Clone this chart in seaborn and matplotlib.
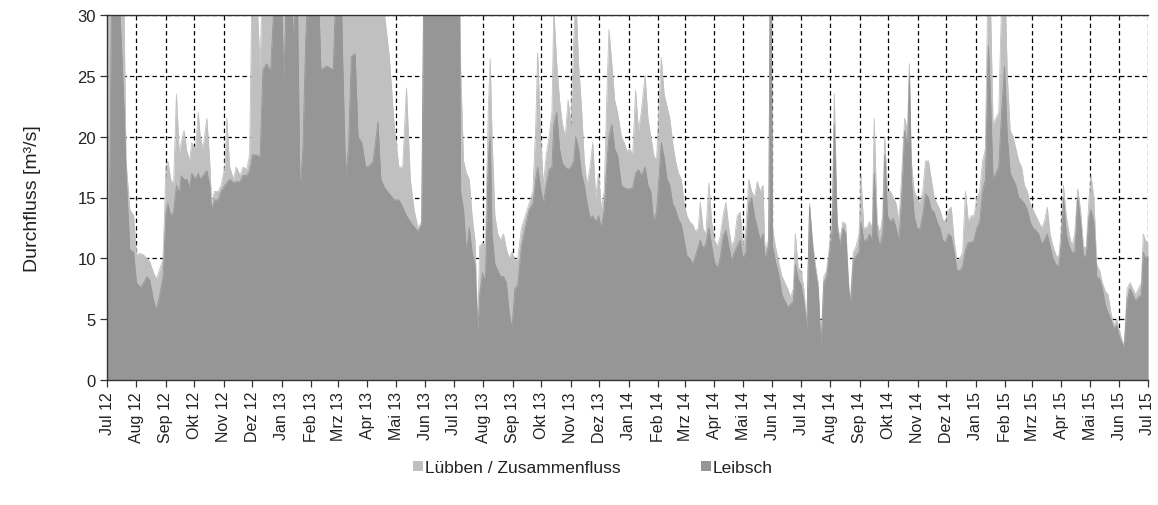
import numpy as np
import pandas as pd
import matplotlib
matplotlib.use("Agg")
import matplotlib.pyplot as plt
from matplotlib.lines import Line2D
import seaborn as sns

# Tage seit 1. Juli 2012
tage = [
    0, 2, 5, 12, 16, 18, 20, 24, 28, 31, 35, 38, 42, 45, 49, 52, 55, 59, 62, 64,
    67, 70, 73, 76, 78, 81, 84, 87, 89, 93, 96, 98, 101, 105, 108, 110, 113, 117, 120, 124,
    126, 129, 133, 136, 140, 143, 147, 150, 153, 157, 161, 164, 168,
    172, 177, 183, 186, 189, 194, 196, 200, 203, 206, 209, 212, 222, 225, 231, 238, 241, 246,
    248, 251, 254, 257, 261, 264, 268, 272, 276, 280, 285, 288, 292, 297, 302, 307, 311, 315,
    319, 323, 327, 331, 334,
    340, 350, 360, 370,
    372, 375, 378, 381, 384, 387, 390, 392, 395, 398, 401, 403, 405, 408, 411, 414, 417, 420,
    423, 426, 429, 432, 436, 440, 444, 448, 451, 453, 456, 459, 462, 465, 468, 470, 473, 476,
    479, 482, 485, 488, 491, 493, 496, 499, 502, 505, 508, 511, 514, 517, 520, 523, 526, 528,
    531, 534, 537,
    541, 544, 547, 550, 553, 556, 559, 562, 566, 569, 572, 575, 578, 581, 583, 586, 589, 592,
    595, 598, 601, 604, 607, 610, 613, 616, 619, 622, 624, 627, 630, 633, 636, 639, 642, 645,
    648, 651, 654, 657, 660, 663, 666, 669, 672, 675, 678, 681, 684, 687, 690,
    692, 696, 698, 700, 703, 707, 710, 713, 716,
    719, 722, 724, 727, 730, 733, 736, 739, 742, 745, 748, 751, 754, 757, 760, 763, 765, 768,
    771, 774, 777, 780, 782, 785, 788, 791, 793, 796, 799, 802, 805, 807, 810, 813, 816, 818,
    821, 824, 827, 830, 833, 836, 839, 842, 844, 846, 849, 852, 855, 858, 861, 864, 867, 870,
    873, 876, 879, 882, 885, 888, 891, 894,
    897, 900, 903, 906, 909, 912, 915, 918, 921, 924, 927, 929, 932, 935, 938, 941, 944, 947,
    950, 953, 956, 959, 962, 965, 968, 971, 974, 977, 980, 983, 986, 989, 992, 995, 998, 1001,
    1004, 1006, 1009, 1012, 1015, 1018, 1021, 1024, 1027, 1030, 1033, 1035, 1038, 1041, 1044,
    1047, 1050, 1053, 1056, 1059, 1062, 1065, 1068, 1070, 1073, 1076, 1079, 1082, 1085, 1088,
    1090, 1092, 1095,
]

# Durchfluss Lübben / Zusammenfluss [m³/s]
luebben = [
    11.5, 35, 38, 38, 35, 30, 18, 14, 13.5, 10.3, 10.4, 10.3, 10, 9.7, 8.8, 8.3, 9, 10, 17.5, 18,
    16.5, 16, 23.5, 18.5, 19.5, 20.5, 18.8, 18, 19.5, 19, 22, 20, 19, 21.5, 18, 14.5, 15.5, 15.5, 16, 17.5,
    21.5, 17.5, 16.5, 17.5, 16.8, 17.5, 17.3, 18.5, 35, 33, 25.5, 35, 35,
    35, 35, 35, 35, 35, 35, 35, 35, 35, 35, 35, 35, 35, 35, 35, 35, 35, 35,
    35, 35, 35, 35, 35, 35, 35, 35, 35, 35, 35, 35, 30, 26.5, 21, 17.5, 17.5, 24,
    16.5, 14, 12.5, 13, 40,
    40, 40, 40, 40,
    25.5, 18, 17, 16.5, 13.5, 11.5, 4.5, 11, 11.3, 11, 22, 26.4, 20, 13.5, 12, 11.5, 12, 10.8,
    10, 10.5, 9.8, 10, 12.5, 13.5, 14.5, 15.5, 21, 26.9, 20, 16, 18.5, 20, 22, 30.5, 26, 23,
    21, 20, 23, 21, 28, 32, 26, 22.5, 18, 16, 17.5, 19.5, 15, 17, 14, 15.5, 24, 28.8,
    26, 23, 22,
    20, 19.5, 18.8, 19, 18.5, 23.8, 20.5, 22, 25, 21.5, 20, 18.5, 18, 23, 26.5, 23.5, 22.5, 21.5,
    19.5, 18, 17, 16.5, 14.5, 13.5, 13, 12.8, 12.2, 12.5, 14.6, 12.4, 12, 16.2, 13, 11.5, 11, 11.8,
    13.5, 14.6, 12.5, 11, 11.5, 13.5, 13.8, 11, 12.5, 16.5, 15.5, 15, 16.3, 15.5, 16,
    10.8, 11.5, 40, 12.5, 11, 9.5, 8.5, 8, 7.5,
    6.8, 7.5, 12, 9.2, 9, 7.5, 4.5, 14.5, 11.5, 9.5, 8, 2.8, 8.5, 9, 11, 14, 23.5, 13,
    11.5, 13, 12.8, 8, 6.5, 10.5, 11, 12, 16.8, 12.5, 12.5, 13, 12.5, 21.5, 13, 12, 13.5, 20,
    15.5, 15.5, 15, 14.5, 13, 17, 21.5, 20.5, 26, 18, 15.5, 15, 14.5, 15.5, 18, 18, 16.5, 15,
    14.5, 14, 13.2, 13, 14, 14.2, 11.5, 9.8,
    10, 10.5, 15.5, 13, 13.5, 13.5, 15, 15.5, 18, 19, 35, 32, 21, 21.5, 22, 31, 34, 25,
    20.5, 20, 19, 18, 17.5, 16, 15.5, 14.5, 14, 13.5, 13, 12.5, 13, 14.2, 12, 11, 10.3, 10,
    12.5, 16, 13.5, 12, 11, 12, 15.7, 14, 11, 10.8, 15, 16.8, 15, 9.5, 9,
    8, 7.3, 7, 5.5, 4.5, 5, 4, 3.2, 2.8, 7.5, 8, 7.5, 7, 7.5, 8,
    12, 11.5, 11.3,
]

# Durchfluss Leibsch [m³/s]
leibsch = [
    4.5, 10, 33, 33, 26, 22, 17, 10.7, 10.5, 8, 7.6, 7.9, 8.5, 8.2, 6.5, 5.8, 6.8, 8.5, 13.8, 14.5,
    13.5, 13.8, 16, 15.3, 16.8, 16.5, 16.5, 15.8, 17, 16.5, 17, 16.5, 16.8, 17.2, 16, 14, 14.8, 14.8, 15.5, 16,
    16.2, 16.5, 16.2, 16.3, 16.3, 16.8, 16.8, 17.2, 18.5, 18.5, 18.3, 25.5, 26,
    25.3, 33, 33, 24.6, 33, 33, 28, 33, 15.5, 19, 28, 33, 33, 25.5, 25.8, 25.5, 33, 33,
    26, 16.8, 19, 26.6, 26.8, 20, 19.5, 17.5, 17.6, 18, 21.2, 16.5, 15.8, 15.3, 14.8, 14.8, 14.2, 13.5,
    13, 12.6, 12.2, 12.8, 40,
    40, 40, 40, 40,
    15.4, 14, 10.5, 12.5, 10.5, 9.5, 3.9, 7, 8.8, 8, 18, 20, 12, 9.5, 9, 8.5, 8.5, 8,
    5.5, 4.2, 7.5, 7.8, 11, 12.5, 14, 14.5, 16.5, 17.5, 15.8, 14.5, 16, 17.3, 17.5, 21, 22, 19,
    17.8, 17.5, 17.3, 17.5, 18, 20, 19, 17, 16, 14.5, 13.3, 13.5, 13, 13.5, 12.5, 14, 18, 20,
    21, 19, 18.5,
    16, 15.8, 15.7, 15.7, 15.8, 17, 17.3, 16.8, 17.5, 16, 15.5, 13, 13.8, 17, 19.5, 18.3, 16.5, 16,
    14.5, 14, 13.2, 12.8, 11.5, 10.2, 10, 9.5, 10.2, 11, 11.5, 10.8, 11.2, 12.5, 11, 9.7, 9.2, 10,
    11.8, 12.3, 11, 9.8, 10.5, 11, 11.5, 10, 10.5, 14.5, 15, 13.5, 12.5, 11.5, 12,
    10, 11, 40, 11, 9.8, 8.5, 7, 6.5, 6,
    6.2, 6.5, 9.5, 8.3, 7.8, 6.5, 4.2, 14.2, 11, 9, 7.5, 2.6, 8, 8.5, 10.5, 12.5, 21, 12.5,
    11, 12.5, 12, 7.5, 6.2, 9.8, 10.2, 10.5, 13, 11.5, 11.5, 12, 11.5, 17, 12, 11, 12, 18.5,
    13.5, 13, 13.3, 12.5, 11.5, 15, 20.5, 19, 25, 16.5, 13.5, 12.5, 12.4, 13.5, 15.3, 15, 14, 13.8,
    13, 12.5, 11.5, 11.3, 12, 11.8, 10.5, 9,
    9, 9.3, 10.7, 11.3, 11.3, 11.5, 12.5, 13, 15.5, 16.5, 27.5, 24, 16.5, 17, 17.5, 22, 25.8, 20,
    17, 16.5, 16, 15, 14.8, 14.5, 14, 13, 12.5, 12.3, 12, 11.2, 11.5, 12, 11, 10, 9.5, 9.3,
    11.5, 15, 12, 11, 10.5, 10.5, 15, 13, 10.2, 10.2, 13.5, 14, 13, 8.5, 8.3,
    7.5, 6.2, 5.5, 5, 4.2, 4.5, 3.5, 3, 2.6, 6.5, 7.5, 7, 6.5, 6.8, 7,
    10.5, 10, 10.2,
]

monate = [
    "Jul 12", "Aug 12", "Sep 12", "Okt 12", "Nov 12", "Dez 12",
    "Jan 13", "Feb 13", "Mrz 13", "Apr 13", "Mai 13", "Jun 13",
    "Jul 13", "Aug 13", "Sep 13", "Okt 13", "Nov 13", "Dez 13",
    "Jan 14", "Feb 14", "Mrz 14", "Apr 14", "Mai 14", "Jun 14",
    "Jul 14", "Aug 14", "Sep 14", "Okt 14", "Nov 14", "Dez 14",
    "Jan 15", "Feb 15", "Mrz 15", "Apr 15", "Mai 15", "Jun 15", "Jul 15",
]

df = pd.DataFrame({"tag": tage, "Lübben / Zusammenfluss": luebben, "Leibsch": leibsch})

start = pd.Timestamp("2012-07-01")
monatsanfang = pd.date_range("2012-07-01", "2015-07-01", freq="MS")
tick_pos = [(d - start).days for d in monatsanfang]

sns.set_theme(style="white")
plt.rcParams["font.family"] = ["Liberation Sans", "DejaVu Sans"]

hell = "#c0c0c0"
dunkel = "#969696"
text = "#222222"

fig = plt.figure(figsize=(11.58, 5.06), dpi=100)
ax = fig.add_axes([107 / 1158, 1 - 381 / 506, (1148 - 107) / 1158, (381 - 16) / 506])

ax.fill_between(df["tag"], df["Lübben / Zusammenfluss"], color=hell, lw=0, zorder=2)
ax.fill_between(df["tag"], df["Leibsch"], color=dunkel, lw=0, zorder=3)
sns.lineplot(data=df, x="tag", y="Lübben / Zusammenfluss", color=hell, lw=0.6, ax=ax, zorder=2)
sns.lineplot(data=df, x="tag", y="Leibsch", color=dunkel, lw=0.6, ax=ax, zorder=3)

ax.set_xlim(0, tick_pos[-1])
ax.set_ylim(0, 30)
ax.set_yticks(np.arange(0, 31, 5))
ax.set_xticks(tick_pos)
ax.set_xticklabels(monate, rotation=90, fontsize=11.5, color=text)
ax.tick_params(axis="y", labelsize=12, labelcolor=text)
ax.tick_params(axis="both", direction="out", length=5, width=0.9, color="#333333",
               bottom=True, left=True, pad=3)

ax.set_xlabel("")
ax.set_ylabel("Durchfluss [m³/s]", fontsize=14, color=text, labelpad=26)

ax.grid(True, color="black", linestyle=(0, (3.5, 2.5)), linewidth=0.9, zorder=1)
ax.set_axisbelow(True)
for side in ["left", "bottom", "top"]:
    ax.spines[side].set_color("#333333")
    ax.spines[side].set_linewidth(1.0)
    ax.spines[side].set_zorder(5)
ax.spines["right"].set_visible(False)

handles = [
    Line2D([], [], marker="s", linestyle="", markersize=7.5, markerfacecolor=hell, markeredgewidth=0),
    Line2D([], [], marker="s", linestyle="", markersize=7.5, markerfacecolor=dunkel, markeredgewidth=0),
]
fig.legend(handles, ["Lübben / Zusammenfluss", "Leibsch"], loc="center",
           bbox_to_anchor=(0.512, 1 - 468 / 506), ncol=2, frameon=False,
           fontsize=12.5, handlelength=0.6, handletextpad=0.1, columnspacing=4.6,
           labelcolor=text)

fig.savefig("out.png", dpi=100)
